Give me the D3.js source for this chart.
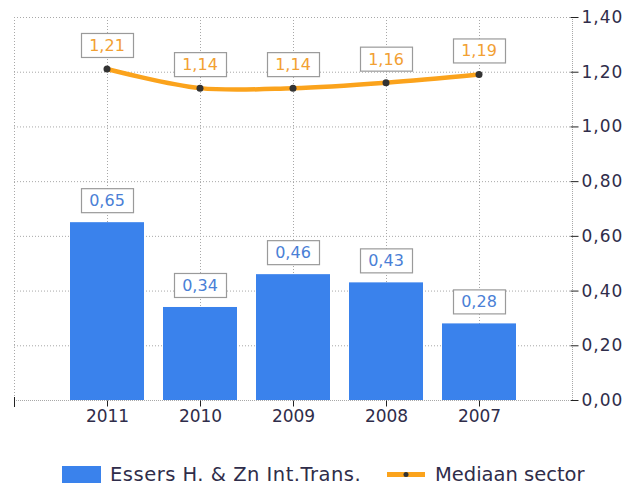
<!DOCTYPE html>
<html>
<head>
<meta charset="utf-8">
<script src="https://cdn.jsdelivr.net/npm/d3@7"></script>
<style>
  html, body { margin: 0; padding: 0; background: #fff; }
  svg { display: block; font-family: "DejaVu Sans", Verdana, sans-serif; }
</style>
</head>
<body>
<svg id="chart" width="638" height="489"></svg>
<script>
const categories = ["2011", "2010", "2009", "2008", "2007"];
const barValues = [0.65, 0.34, 0.46, 0.43, 0.28];
const lineValues = [1.21, 1.14, 1.14, 1.16, 1.19];
const yTicks = [0, 0.2, 0.4, 0.6, 0.8, 1.0, 1.2, 1.4];
const barName = "Essers H. & Zn Int.Trans.";
const lineName = "Mediaan sector";

const fmt = v => d3.format(".2f")(v).replace(".", ",");

const svg = d3.select("#chart");
const pL = 14, pR = 572, pT = 17, pB = 400;

const x = d3.scalePoint().domain(categories).range([pL, pR]).padding(1);
const y = d3.scaleLinear().domain([0, 1.4]).range([pB, pT]);
const barW = 74;

const gridColor = "#a8a8a8";
const textColor = "#2f2d4a";

// horizontal grid
svg.append("g").selectAll("line").data(yTicks.filter(d => d > 0)).join("line")
  .attr("x1", pL).attr("x2", pR)
  .attr("y1", d => y(d) + 0.5).attr("y2", d => y(d) + 0.5)
  .attr("stroke", gridColor).attr("stroke-dasharray", "1,2");
// vertical grid
svg.append("g").selectAll("line").data(categories).join("line")
  .attr("x1", d => x(d) + 0.5).attr("x2", d => x(d) + 0.5)
  .attr("y1", pT).attr("y2", pB)
  .attr("stroke", gridColor).attr("stroke-dasharray", "1,2");
svg.append("line").attr("x1", pL + 0.5).attr("x2", pL + 0.5).attr("y1", pT).attr("y2", pB)
  .attr("stroke", gridColor).attr("stroke-dasharray", "1,2");

// bars
svg.append("g").selectAll("rect").data(barValues).join("rect")
  .attr("x", (d, i) => x(categories[i]) - barW / 2)
  .attr("width", barW)
  .attr("y", d => y(d))
  .attr("height", d => y(0) - y(d))
  .attr("fill", "#3a82ec");

// right axis
const yAxis = d3.axisRight(y).tickValues(yTicks).tickFormat(fmt).tickSize(6).tickPadding(3);
const ya = svg.append("g").attr("transform", `translate(${pR + 0.5},0)`).call(yAxis);
ya.select(".domain").attr("stroke", gridColor).attr("stroke-dasharray", "1,1").attr("d", `M0,${pT}V${pB}`);
ya.selectAll(".tick line").attr("stroke", "#222").attr("x1", -2);
ya.selectAll(".tick text").attr("fill", textColor).attr("font-size", 17).attr("letter-spacing", 1)
  .attr("font-family", "DejaVu Sans, Verdana, sans-serif");

// bottom axis
const xAxis = d3.axisBottom(x).tickSize(6).tickPadding(3);
const xa = svg.append("g").attr("transform", `translate(0,${pB + 0.5})`).call(xAxis);
xa.select(".domain").attr("stroke", gridColor).attr("stroke-dasharray", "1,1").attr("d", `M${pL},0H${pR}`);
xa.selectAll(".tick line").attr("stroke", "#222");
xa.selectAll(".tick text").attr("fill", textColor).attr("font-size", 17)
  .attr("font-family", "DejaVu Sans, Verdana, sans-serif");
svg.append("line").attr("x1", pL + 0.5).attr("x2", pL + 0.5).attr("y1", pB - 3).attr("y2", pB + 7).attr("stroke", "#222");

// line
const line = d3.line().x((d, i) => x(categories[i])).y(d => y(d)).curve(d3.curveCatmullRom.alpha(0.5));
svg.append("path").datum(lineValues).attr("d", line)
  .attr("fill", "none").attr("stroke", "#fba31c").attr("stroke-width", 4.5).attr("stroke-linecap", "round");
svg.append("g").selectAll("circle").data(lineValues).join("circle")
  .attr("cx", (d, i) => x(categories[i])).attr("cy", d => y(d)).attr("r", 3.5).attr("fill", "#333");

// labels
function labels(values, color, gap) {
  const g = svg.append("g");
  values.forEach((v, i) => {
    const cx = x(categories[i]);
    const by = y(v) - gap;
    g.append("rect").attr("x", Math.round(cx - 26) + 0.5).attr("y", by - 24 + 0.5)
      .attr("width", 52).attr("height", 24)
      .attr("fill", "#fff").attr("stroke", "#9a9a9a").attr("stroke-width", 1.2);
    g.append("text").attr("x", cx).attr("y", by - 6)
      .attr("text-anchor", "middle").attr("font-size", 16).attr("fill", color)
      .text(fmt(v));
  });
}
labels(barValues, "#4a7fd6", 10);
labels(lineValues, "#f2a033", 12);

// legend
const lg = svg.append("g").attr("font-size", 19.5).attr("fill", textColor);
lg.append("rect").attr("x", 62).attr("y", 466).attr("width", 39).attr("height", 17).attr("fill", "#3a82ec");
lg.append("text").attr("x", 110).attr("y", 481).attr("letter-spacing", 0.5).text(barName);
lg.append("line").attr("x1", 387).attr("x2", 425).attr("y1", 474.5).attr("y2", 474.5)
  .attr("stroke", "#fba31c").attr("stroke-width", 5);
lg.append("circle").attr("cx", 406).attr("cy", 474.5).attr("r", 2.5).attr("fill", "#333");
lg.append("text").attr("x", 435).attr("y", 481).text(lineName);
</script>
</body>
</html>
